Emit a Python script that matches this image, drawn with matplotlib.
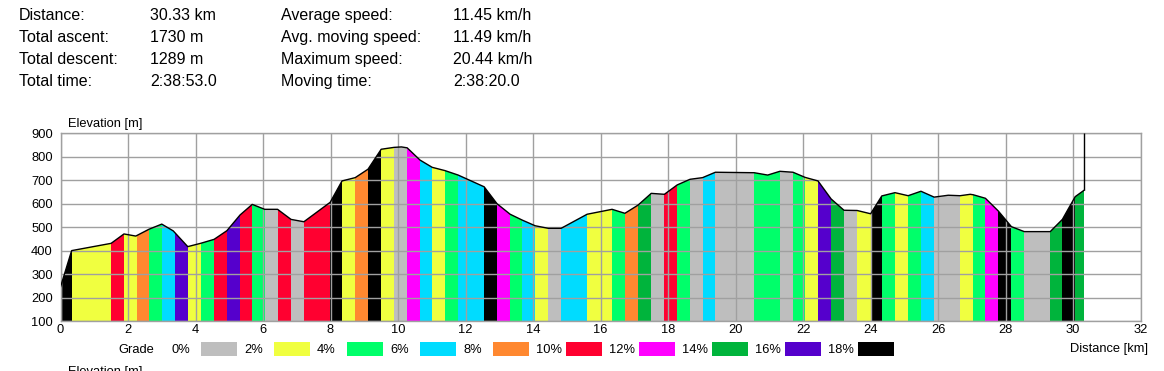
import numpy as np
import matplotlib.pyplot as plt
from matplotlib.patches import Polygon, Rectangle

plt.rcParams['font.family'] = ['Liberation Sans', 'DejaVu Sans']

# ------------------------------------------
# summary block at the top
# ------------------------------------------
stat_names_left = ['Distance:', 'Total ascent:', 'Total descent:', 'Total time:']
stat_values_left = ['30.33 km', '1730 m', '1289 m', '2:38:53.0']
stat_names_right = ['Average speed:', 'Avg. moving speed:', 'Maximum speed:', 'Moving time:']
stat_values_right = ['11.45 km/h', '11.49 km/h', '20.44 km/h', '2:38:20.0']

# ------------------------------------------
# elevation profile (km, m)
# ------------------------------------------
profile_km = [0.00, 0.33, 1.50, 1.88, 2.23, 2.62, 3.00, 3.34, 3.77, 4.15, 4.55,
              4.93, 5.32, 5.68, 6.05, 6.43, 6.83, 7.21, 7.99, 8.34, 8.73, 9.11,
              9.50, 9.88, 10.10, 10.27, 10.65, 11.01, 11.39, 11.78, 12.55, 12.93,
              13.32, 13.68, 14.06, 14.45, 14.83, 15.60, 16.34, 16.72, 17.11, 17.50,
              17.89, 18.27, 18.65, 19.02, 19.40, 20.55, 20.95, 21.31, 21.70, 22.06,
              22.44, 22.83, 23.21, 23.60, 24.00, 24.33, 24.72, 25.11, 25.49, 25.88,
              26.30, 26.65, 26.95, 27.04, 27.40, 27.78, 28.17, 28.55, 29.32, 29.68,
              30.06, 30.33]
profile_elev = [245, 400, 431, 471, 462, 491, 513, 484, 417, 431, 448,
                485, 552, 597, 576, 576, 533, 523, 606, 697, 711, 747,
                832, 840, 842, 838, 786, 755, 741, 722, 672, 600,
                555, 530, 506, 495, 495, 555, 576, 559, 594, 644,
                640, 680, 704, 711, 734, 732, 722, 738, 734, 712,
                697, 620, 572, 571, 557, 633, 647, 634, 653, 628,
                636, 634, 640, 638, 623, 569, 502, 481, 481, 533,
                630, 658]

# grade bands: edges in km, grade class (lower bound in %) per band
band_edges = [0.00, 0.33, 1.50, 1.88, 2.27, 2.62, 3.02, 3.39, 3.78, 4.15, 4.55,
              4.93, 5.32, 5.68, 6.05, 6.43, 6.83, 7.21, 7.99, 8.34, 8.73, 9.11,
              9.50, 9.88, 10.27, 10.65, 11.01, 11.39, 11.78, 12.55, 12.93, 13.32,
              13.68, 14.06, 14.45, 14.83, 15.60, 16.34, 16.72, 17.11, 17.50, 17.89,
              18.27, 18.65, 19.02, 19.40, 20.55, 21.31, 21.70, 22.06, 22.44, 22.83,
              23.21, 23.60, 24.00, 24.33, 24.72, 25.11, 25.49, 25.88, 26.65, 27.04,
              27.40, 27.78, 28.17, 28.55, 29.32, 29.68, 30.06, 30.33]
band_grade = [18, 2, 10, 2, 8, 4, 6, 16, 2, 4,
              10, 16, 10, 4, 0, 10, 0, 10, 18, 2,
              8, 18, 2, 0, 12, 6, 2, 4, 6, 18,
              12, 4, 6, 2, 0, 6, 2, 4, 8, 14,
              0, 10, 4, 0, 6, 0, 4, 0, 4, 2,
              16, 14, 0, 2, 18, 4, 2, 4, 6, 0,
              2, 4, 12, 18, 4, 0, 14, 18, 14]

grade_levels = [0, 2, 4, 6, 8, 10, 12, 14, 16, 18]
grade_colors = ['#bebebe', '#f0ff40', '#00ff6a', '#00dcff', '#ff8830',
                '#ff0030', '#ff00ff', '#00b43c', '#5500cc', '#000000']
grade_color = dict(zip(grade_levels, grade_colors))

# ------------------------------------------
# figure
# ------------------------------------------
W, H = 1164, 371
fig = plt.figure(figsize=(W / 100, H / 100), dpi=100)

ax_l, ax_r, ax_t, ax_b = 60.5, 1140.7, 133.3, 321.0
ax = fig.add_axes([ax_l / W, (H - ax_b) / H, (ax_r - ax_l) / W, (ax_b - ax_t) / H])

# profile outline used to clip the coloured bands
verts = [(profile_km[0], 100)] + list(zip(profile_km, profile_elev)) + [(profile_km[-1], 100)]
clip = Polygon(verts, closed=True, transform=ax.transData, fc='none', ec='none')

for x0, x1, g in zip(band_edges[:-1], band_edges[1:], band_grade):
    span = ax.axvspan(x0, x1, color=grade_color[g], lw=0, antialiased=False, zorder=1)
    span.set_clip_path(clip)

ax.plot(profile_km, profile_elev, color='black', lw=1, zorder=4)
ax.vlines(profile_km[-1], profile_elev[-1], 900, color='black', lw=1, zorder=4)

ax.set_xlim(0, 32)
ax.set_ylim(100, 900)
ax.set_xticks(range(0, 33, 2))
ax.set_yticks(range(100, 901, 100))
ax.set_axisbelow(False)
ax.grid(color='#a0a0a0', lw=1)
for s in ax.spines.values():
    s.set_color('#a0a0a0')
    s.set_linewidth(1)
ax.tick_params(length=0, labelsize=9.3, colors='black')
ax.tick_params(axis='x', pad=2.5)
ax.tick_params(axis='y', pad=5.5)

# ------------------------------------------
# overlay in pixel coordinates for texts and legend
# ------------------------------------------
ov = fig.add_axes([0, 0, 1, 1])
ov.set_xlim(0, W)
ov.set_ylim(H, 0)
ov.axis('off')
ov.patch.set_alpha(0)

for i in range(4):
    y = 20 + 22 * i
    ov.text(19, y, stat_names_left[i], fontsize=11.5, va='baseline')
    ov.text(150, y, stat_values_left[i], fontsize=11.5, va='baseline')
    ov.text(281, y, stat_names_right[i], fontsize=11.5, va='baseline')
    ov.text(453, y, stat_values_right[i], fontsize=11.5, va='baseline')

ov.text(68, 126.5, 'Elevation [m]', fontsize=9.3, va='baseline')
ov.text(1148, 352, 'Distance [km]', fontsize=9.3, va='baseline', ha='right')

# grade legend
ov.text(118, 353, 'Grade', fontsize=9.3, va='baseline')
for i, (g, c) in enumerate(zip(grade_levels, grade_colors)):
    ov.text(171 + 73 * i, 353, f'{g}%', fontsize=9.3, va='baseline')
    ov.add_patch(Rectangle((201 + 73 * i, 342), 36, 14, color=c, lw=0))

# caption of the next chart, cut off by the bottom edge as in the original
ov.text(68, 366, 'Elevation [m]', fontsize=9.3, va='top', clip_on=False)

plt.savefig('out.png', dpi=100)
